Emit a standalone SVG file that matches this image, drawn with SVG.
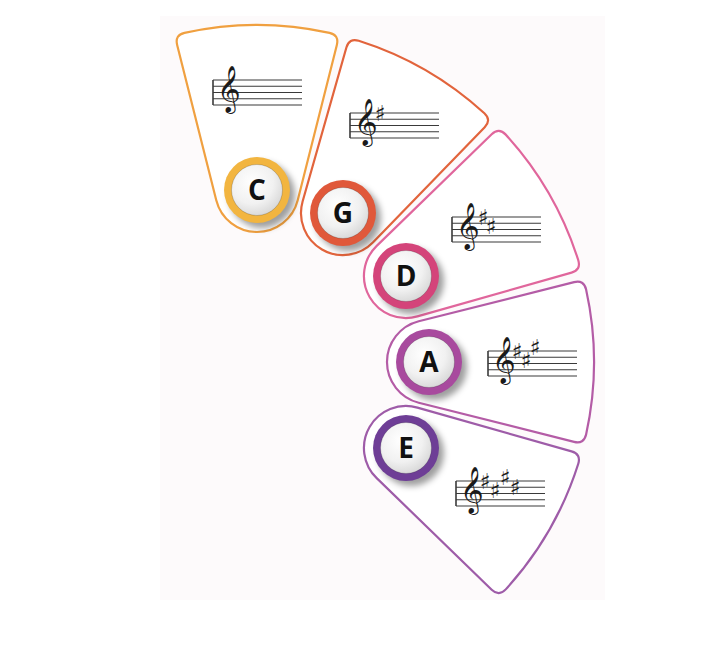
<svg xmlns="http://www.w3.org/2000/svg" width="708" height="646" viewBox="0 0 708 646">
<style>
.petal{fill:#ffffff;stroke-width:2.2;stroke-linejoin:round}
.sl{stroke:#3a3a3a;stroke-width:1.2}
.bar{stroke:#3a3a3a;stroke-width:1.6}
.clef{font-family:"DejaVu Sans","Noto Sans",serif;font-size:40px;fill:#1a1a1a}
.sharp{font-family:"DejaVu Sans",sans-serif;font-size:22px;fill:#1a1a1a;text-anchor:middle;dominant-baseline:central}
.inner{fill:url(#btn);stroke:#000;stroke-opacity:.18;stroke-width:1}
.shadow{fill:#000;fill-opacity:.38;filter:url(#blur)}
.letter{font-family:"Open Sans","Liberation Sans",sans-serif;font-weight:700;font-size:28px;fill:#111;text-anchor:middle}
</style>
<defs>
<radialGradient id="btn" cx="0.4" cy="0.35" r="0.7">
<stop offset="0" stop-color="#ffffff"/>
<stop offset="0.6" stop-color="#f1f1f1"/>
<stop offset="1" stop-color="#d6d6d6"/>
</radialGradient>
<filter id="blur" x="-50%" y="-50%" width="200%" height="200%"><feGaussianBlur stdDeviation="3"/></filter>
<path id="petalShape" d="M161.74,-40.73 L317.10,-79.85 Q326.80,-82.29 329.10,-72.54 A337 337 0 0 1 329.10,72.54 Q326.80,82.29 317.10,79.85 L161.74,40.73 A42 42 0 0 1 161.74,-40.73 Z"/>
<g id="staffLines">
<line class="bar" x1="0" y1="0" x2="0" y2="25"/>
<line class="sl" x1="0" y1="0" x2="89" y2="0"/>
<line class="sl" x1="0" y1="6.25" x2="89" y2="6.25"/>
<line class="sl" x1="0" y1="12.5" x2="89" y2="12.5"/>
<line class="sl" x1="0" y1="18.75" x2="89" y2="18.75"/>
<line class="sl" x1="0" y1="25" x2="89" y2="25"/>
</g>
</defs>
<rect x="160" y="16" width="445" height="584" fill="#fdfafb"/>
<g id="connectors"/>

<g id="node-E">
<use href="#petalShape" class="petal" stroke="#9e5ca8" transform="translate(257 362) rotate(30)"/>
<g transform="translate(456 481)">
<use href="#staffLines"/>
<text class="clef" x="4" y="22">𝄞</text>
<text class="sharp" x="29" y="0">♯</text>
<text class="sharp" x="39" y="9.4">♯</text>
<text class="sharp" x="49" y="-3.1">♯</text>
<text class="sharp" x="59" y="6.25">♯</text>
</g>
<g transform="translate(406 448)">
<circle class="shadow" cx="5" cy="5" r="33"/>
<circle r="33" fill="#6e3e96"/>
<circle class="inner" r="25.5"/>
<text class="letter" y="10">E</text>
</g>
</g>

<g id="node-A">
<use href="#petalShape" class="petal" stroke="#b45ca6" transform="translate(257 362) rotate(0)"/>
<g transform="translate(488 351)">
<use href="#staffLines"/>
<text class="clef" x="4" y="22">𝄞</text>
<text class="sharp" x="29" y="0">♯</text>
<text class="sharp" x="38" y="9.4">♯</text>
<text class="sharp" x="47" y="-3.1">♯</text>
</g>
<g transform="translate(429 362)">
<circle class="shadow" cx="5" cy="5" r="33"/>
<circle r="33" fill="#a84a9e"/>
<circle class="inner" r="25.5"/>
<text class="letter" y="10">A</text>
</g>
</g>

<g id="node-D">
<use href="#petalShape" class="petal" stroke="#e0669c" transform="translate(257 362) rotate(-30)"/>
<g transform="translate(452 217)">
<use href="#staffLines"/>
<text class="clef" x="4" y="22">𝄞</text>
<text class="sharp" x="31" y="0">♯</text>
<text class="sharp" x="39" y="9.4">♯</text>
</g>
<g transform="translate(406 276)">
<circle class="shadow" cx="5" cy="5" r="33"/>
<circle r="33" fill="#d4447a"/>
<circle class="inner" r="25.5"/>
<text class="letter" y="10">D</text>
</g>
</g>

<g id="node-G">
<use href="#petalShape" class="petal" stroke="#e2643c" transform="translate(257 362) rotate(-60)"/>
<g transform="translate(350 113)">
<use href="#staffLines"/>
<text class="clef" x="4" y="22">𝄞</text>
<text class="sharp" x="30" y="0">♯</text>
</g>
<g transform="translate(343 213)">
<circle class="shadow" cx="5" cy="5" r="33"/>
<circle r="33" fill="#e0583a"/>
<circle class="inner" r="25.5"/>
<text class="letter" y="10">G</text>
</g>
</g>

<g id="node-C">
<use href="#petalShape" class="petal" stroke="#f0a040" transform="translate(257 362) rotate(-90)"/>
<g transform="translate(213 80)">
<use href="#staffLines"/>
<text class="clef" x="4" y="22">𝄞</text>
</g>
<g transform="translate(257 190)">
<circle class="shadow" cx="5" cy="5" r="33"/>
<circle r="33" fill="#f2b540"/>
<circle class="inner" r="25.5"/>
<text class="letter" y="10">C</text>
</g>
</g>
</svg>
